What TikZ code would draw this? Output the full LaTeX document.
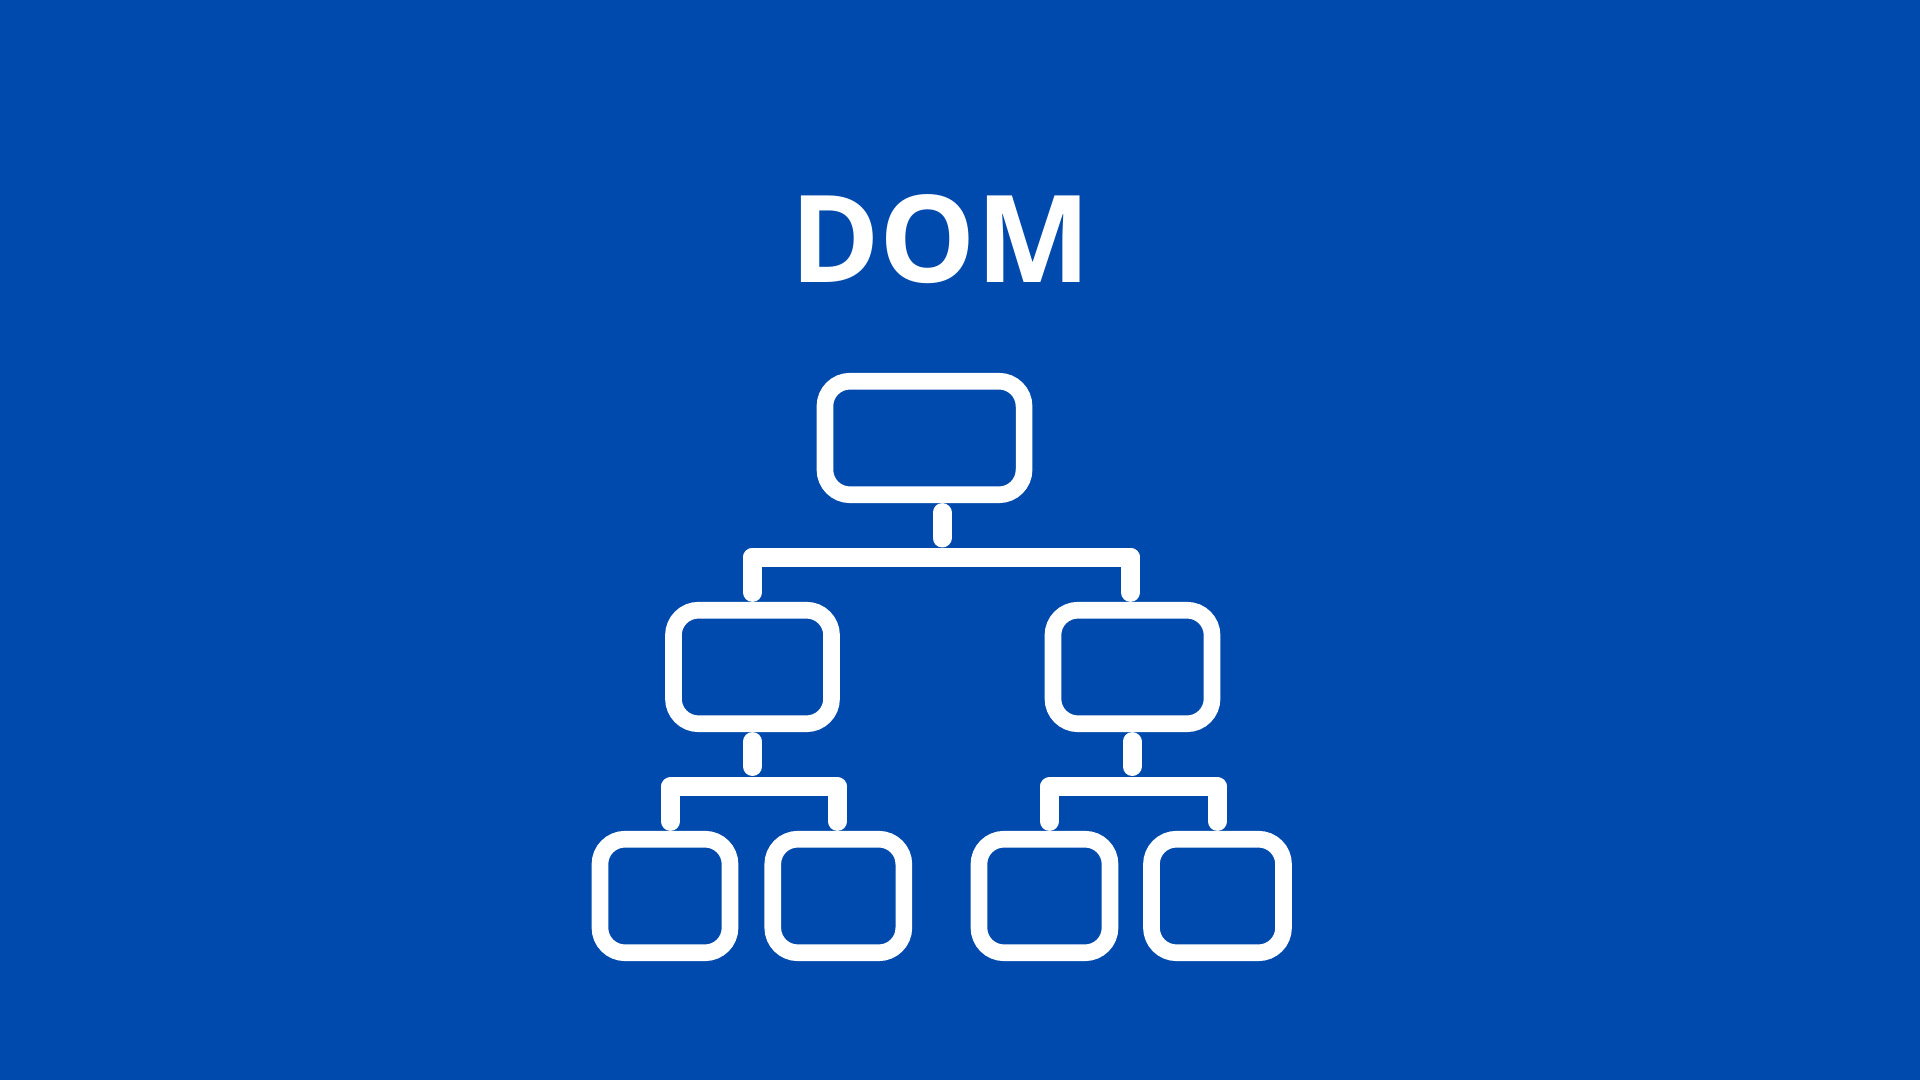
\documentclass[tikz,border=0pt]{standalone}
\usepackage{fontspec}
\setsansfont{Open Sans}
\definecolor{bgblue}{HTML}{004AAD}

\begin{document}
\begin{tikzpicture}[x=0.01cm, y=-0.01cm,
        main/.style = {draw=white, line width=1.66mm, rounded corners=2.5mm, inner sep=0pt, minimum height=1.135cm},
        link/.style = {draw=white, line width=1.9mm, line cap=round}]
                \fill[bgblue] (0, 0) rectangle (1920, 1080);

                \node[text=white, inner sep=0pt, anchor=base, font=\sffamily\bfseries\fontsize{34.5}{40}\selectfont] at (940.5, 283) (title) {DOM};

                \node[main, minimum width=1.99cm] at (924.5, 438) (root) {};
                \node[main, minimum width=1.58cm] at (752.5, 667) (left) {};
                \node[main, minimum width=1.59cm] at (1132.5, 667) (right) {};
                \node[main, minimum width=1.30cm] at (665, 896) (leafA) {};
                \node[main, minimum width=1.31cm] at (838.3, 896) (leafB) {};
                \node[main, minimum width=1.31cm] at (1044.5, 896) (leafC) {};
                \node[main, minimum width=1.32cm] at (1217.5, 896) (leafD) {};

                \coordinate (s0) at (942, 538);
                \coordinate (b0l) at (752.5, 557.5);
                \coordinate (b0r) at (1130.5, 557.5);
                \coordinate (s1) at (752.5, 766.5);
                \coordinate (b1l) at (670.5, 787);
                \coordinate (b1r) at (837.5, 787);
                \coordinate (s2) at (1132, 766.5);
                \coordinate (b2l) at (1049.5, 787);
                \coordinate (b2r) at (1217.5, 787);

                \draw[link, shorten <=0.95mm] (root.south -| s0) -- (s0);
                \draw[link] (b0l) -- (b0r);
                \draw[link, shorten >=0.95mm] (b0l) -- (b0l |- left.north);
                \draw[link, shorten >=0.95mm] (b0r) -- (b0r |- right.north);

                \draw[link, shorten <=0.95mm] (left.south) -- (s1);
                \draw[link] (b1l) -- (b1r);
                \draw[link, shorten >=0.95mm] (b1l) -- (b1l |- leafA.north);
                \draw[link, shorten >=0.95mm] (b1r) -- (b1r |- leafB.north);

                \draw[link, shorten <=0.95mm] (right.south -| s2) -- (s2);
                \draw[link] (b2l) -- (b2r);
                \draw[link, shorten >=0.95mm] (b2l) -- (b2l |- leafC.north);
                \draw[link, shorten >=0.95mm] (b2r) -- (b2r |- leafD.north);
            \end{tikzpicture}
\end{document}
